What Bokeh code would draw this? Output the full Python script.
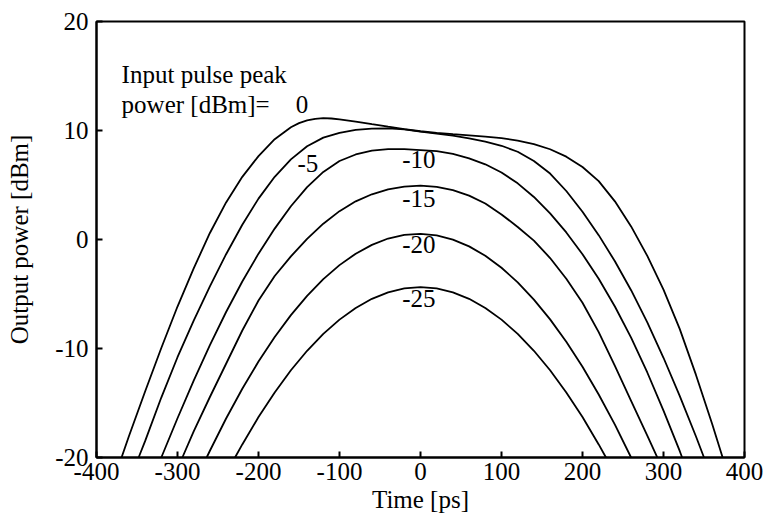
from bokeh.plotting import figure
from bokeh.models import Range1d, FixedTicker
from bokeh.core.properties import value
from bokeh.embed import file_html
from bokeh.resources import INLINE

FONT = "Liberation Serif"

# ---- data ----
x_ticks = [-400, -300, -200, -100, 0, 100, 200, 300, 400]
y_ticks = [-20, -10, 0, 10, 20]

# input peak power 0 dBm
t_0 = [-370, -360, -340, -320, -300, -280, -260, -240, -220, -200, -180, -160, -150, -140, -130, -120, -110, -100, -80, -60, -40, -20, 0,
       20, 40, 60, 80, 100, 120, 140, 160, 180, 200, 220, 240, 260, 280, 300, 320, 340, 360, 373]
p_0 = [-20.2, -18.05, -13.95, -9.95, -6.15, -2.65, 0.6, 3.4, 5.75, 7.65, 9.2, 10.3, 10.68, 10.92, 11.07, 11.14, 11.1, 11.02, 10.82, 10.58, 10.35, 10.13, 9.93,
       9.78, 9.66, 9.55, 9.44, 9.3, 9.08, 8.75, 8.28, 7.6, 6.65, 5.35, 3.5, 1.2, -1.5, -4.6, -8.2, -12.4, -16.9, -20]

# -5 dBm
t_m5 = [-348, -340, -320, -300, -280, -260, -240, -220, -200, -180, -160, -140, -120, -100, -80, -60, -40, -20, 0,
        20, 40, 60, 80, 100, 120, 140, 160, 180, 200, 220, 240, 260, 280, 300, 320, 340, 350]
p_m5 = [-20, -18.5, -14.5, -10.8, -7.45, -4.3, -1.35, 1.35, 3.75, 5.75, 7.35, 8.55, 9.35, 9.78, 10.05, 10.18, 10.2, 10.1, 9.9,
        9.72, 9.52, 9.28, 8.98, 8.6, 8.05, 7.2, 6.05, 4.45, 2.55, 0.4, -2.0, -4.65, -7.6, -10.85, -14.35, -18.05, -20]

# -10 dBm
t_m10 = [-320, -300, -280, -260, -240, -220, -200, -180, -160, -140, -120, -100, -80, -60, -40, -20, 0,
         20, 40, 60, 80, 100, 120, 140, 160, 180, 200, 220, 240, 260, 280, 300, 320, 323]
p_m10 = [-20, -16.4, -12.95, -9.7, -6.65, -3.85, -1.3, 1.0, 3.05, 4.8, 6.2, 7.2, 7.8, 8.15, 8.3, 8.3, 8.2,
         8.1, 7.85, 7.45, 6.9, 6.15, 5.15, 3.9, 2.4, 0.65, -1.35, -3.6, -6.15, -9.0, -12.2, -15.7, -19.4, -20]

# -15 dBm
t_m15 = [-294, -280, -260, -240, -220, -200, -180, -160, -140, -120, -100, -80, -60, -40, -20, 0,
         20, 40, 60, 80, 100, 120, 140, 160, 180, 200, 220, 240, 260, 280, 293]
p_m15 = [-20, -17.6, -14.45, -11.4, -8.35, -5.6, -3.35, -1.55, 0.05, 1.45, 2.6, 3.5, 4.15, 4.6, 4.86, 4.95,
         4.83, 4.53, 4.02, 3.3, 2.3, 1.15, -0.1, -1.7, -3.6, -5.8, -8.5, -11.6, -14.8, -18.0, -20.1]

# -20 dBm
t_m20 = [-264, -260, -240, -220, -200, -180, -160, -140, -120, -100, -80, -60, -40, -20, 0,
         20, 40, 60, 80, 100, 120, 140, 160, 180, 200, 220, 240, 260]
p_m20 = [-20, -19.38, -16.42, -13.69, -11.2, -8.95, -6.94, -5.17, -3.64, -2.35, -1.3, -0.49, 0.09, 0.42, 0.52,
         0.375, -0.01, -0.63, -1.49, -2.59, -3.93, -5.51, -7.33, -9.38, -11.68, -14.22, -16.99, -20]

# -25 dBm
t_m25 = [-229, -220, -200, -180, -160, -140, -120, -100, -80, -60, -40, -20, 0,
         20, 40, 60, 80, 100, 120, 140, 160, 180, 200, 220, 229]
p_m25 = [-20, -18.8, -16.29, -14.03, -12.0, -10.21, -8.66, -7.35, -6.28, -5.44, -4.85, -4.49, -4.37,
         -4.49, -4.85, -5.44, -6.28, -7.35, -8.66, -10.21, -12.0, -14.03, -16.29, -18.8, -20]

curve_t = [t_0, t_m5, t_m10, t_m15, t_m20, t_m25]
curve_p = [p_0, p_m5, p_m10, p_m15, p_m20, p_m25]

# curve labels
lab_text = ["-5", "-10", "-15", "-20", "-25"]
lab_x = [-139, -2, -2, -2, -2]
lab_y = [7.0, 7.3, 3.8, -0.5, -5.4]

head_text = ["Input pulse peak", "power [dBm]=", "0"]
head_x = [-369, -369, -154]
head_y = [15.1, 12.35, 12.35]

# ---- figure ----
p = figure(width=764, height=517, output_backend="svg", toolbar_location=None,
           x_range=Range1d(-400, 400), y_range=Range1d(-20, 20),
           min_border_left=96, min_border_right=20, min_border_top=21, min_border_bottom=60)
p.xgrid.visible = False
p.ygrid.visible = False
p.outline_line_color = "black"
p.outline_line_width = 2
p.outline_line_alpha = 1.0

for ax, ticks, lab in ((p.xaxis[0], x_ticks, "Time [ps]"), (p.yaxis[0], y_ticks, "Output power [dBm]")):
    ax.ticker = FixedTicker(ticks=ticks)
    ax.major_label_overrides = {v: str(v) for v in ticks}
    ax.axis_label = lab
    ax.axis_label_text_font = FONT
    ax.axis_label_text_font_size = "25px"
    ax.axis_label_text_font_style = "normal"
    ax.axis_label_text_color = "black"
    ax.major_label_text_font = FONT
    ax.major_label_text_font_size = "25px"
    ax.major_label_text_color = "black"
    ax.axis_line_color = "black"
    ax.axis_line_width = 2
    ax.major_tick_line_color = "black"
    ax.major_tick_line_width = 2
    ax.major_tick_in = 6
    ax.major_tick_out = 0
    ax.minor_tick_line_color = None

p.xaxis.major_label_standoff = 5
p.xaxis.axis_label_standoff = 3
p.yaxis.major_label_standoff = 8
p.yaxis.axis_label_standoff = 19

for t, y in zip(curve_t, curve_p):
    p.line(t, y, line_color="black", line_width=1.8)

p.text(x=lab_x, y=lab_y, text=lab_text, text_font=value(FONT), text_font_size="25px",
       text_align="center", text_baseline="alphabetic", text_color="black")
p.text(x=head_x, y=head_y, text=head_text, text_font=value(FONT), text_font_size="25px",
       text_align="left", text_baseline="alphabetic", text_color="black")

open("out.html", "w").write(file_html(p, INLINE))
